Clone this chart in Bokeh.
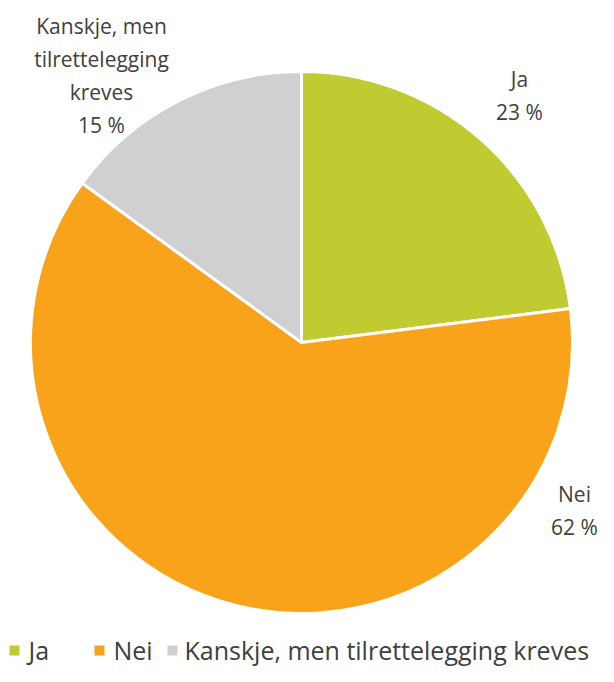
from bokeh.plotting import figure
from bokeh.models import Range1d
from bokeh.core.properties import value
from bokeh.embed import file_html
from bokeh.resources import INLINE
import numpy as np

categories = ["Ja", "Nei", "Kanskje, men tilrettelegging kreves"]
shares = [23, 62, 15]
pct_labels = ["23 %", "62 %", "15 %"]
label_names = [["Ja"], ["Nei"], ["Kanskje, men", "tilrettelegging", "kreves"]]
colors = ["#BFCB30", "#F9A31B", "#D0CFD1"]

W, H = 598, 666
FONT = "Open Sans"
TXT = "#404040"

def X(px):
    return px

def Y(py):
    return H - py

p = figure(width=W, height=H, output_backend="svg", toolbar_location=None,
           x_range=Range1d(0, W), y_range=Range1d(0, H), min_border=0)
p.axis.visible = False
p.grid.visible = False
p.outline_line_color = None

cx, cy, r = X(301), Y(342), 271
total = sum(shares)
start = np.pi / 2
for s, c in zip(shares, colors):
    end = start - 2 * np.pi * s / total
    p.wedge(x=cx, y=cy, radius=r, start_angle=end, end_angle=start,
            fill_color=c, line_color="white", line_width=3)
    start = end

# data labels (screen positions of label centers)
label_pos = [(519, 78), (574, 493), (101, 25)]
line_h = 33
for names, pct, (lx, ly) in zip(label_names, pct_labels, label_pos):
    lines = names + [pct]
    for i, t in enumerate(lines):
        p.text(x=[X(lx)], y=[Y(ly + i * line_h)], text=[t], text_align="center",
               text_baseline="middle", text_font=value(FONT), text_font_size="21px",
               text_color=TXT)

# legend
leg_sq = [14, 99, 172]
leg_tx = [28, 113, 184]
leg_y = 649
for c, name, sx, tx in zip(colors, categories, leg_sq, leg_tx):
    p.rect(x=[X(sx)], y=[Y(leg_y + 1)], width=10, height=10, fill_color=c, line_color=None)
    p.text(x=[X(tx)], y=[Y(leg_y)], text=[name], text_align="left",
           text_baseline="middle", text_font=value(FONT), text_font_size="25px",
           text_color=TXT)

open("out.html", "w").write(file_html(p, INLINE))
